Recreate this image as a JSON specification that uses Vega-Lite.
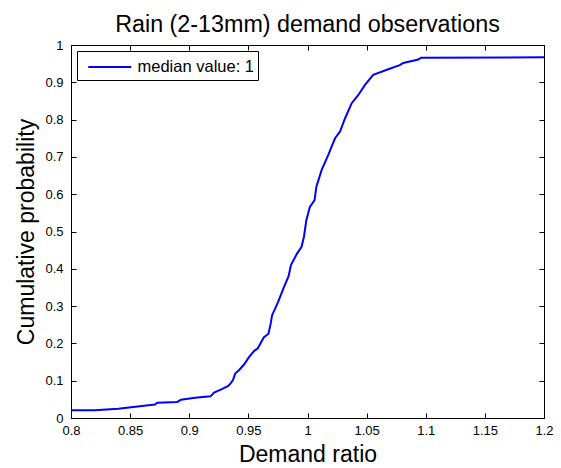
{
  "$schema": "https://vega.github.io/schema/vega-lite/v6.json",
  "width": 473,
  "height": 373,
  "autosize": {"type": "none"},
  "padding": {"left": 71, "top": 45, "right": 17, "bottom": 50},
  "background": "white",
  "config": {
    "font": "Liberation Sans",
    "view": {"stroke": "black", "strokeWidth": 1},
    "axis": {"domainColor": "black", "tickColor": "black", "labelColor": "black", "titleColor": "black", "grid": false}
  },
  "title": {
    "text": "Rain (2-13mm) demand observations",
    "font": "Liberation Sans",
    "fontSize": 23.3,
    "fontWeight": "normal",
    "color": "black",
    "anchor": "middle",
    "baseline": "alphabetic",
    "offset": 13,
    "dy": 29
  },
  "data": {
    "values": [
      {"x": 0.8, "p": 0.021, "s": "median value: 1"},
      {"x": 0.82, "p": 0.021, "s": "median value: 1"},
      {"x": 0.84, "p": 0.025, "s": "median value: 1"},
      {"x": 0.86, "p": 0.032, "s": "median value: 1"},
      {"x": 0.871, "p": 0.036, "s": "median value: 1"},
      {"x": 0.873, "p": 0.041, "s": "median value: 1"},
      {"x": 0.89, "p": 0.043, "s": "median value: 1"},
      {"x": 0.893, "p": 0.049, "s": "median value: 1"},
      {"x": 0.905, "p": 0.054, "s": "median value: 1"},
      {"x": 0.918, "p": 0.058, "s": "median value: 1"},
      {"x": 0.921, "p": 0.068, "s": "median value: 1"},
      {"x": 0.928, "p": 0.078, "s": "median value: 1"},
      {"x": 0.933, "p": 0.086, "s": "median value: 1"},
      {"x": 0.935, "p": 0.093, "s": "median value: 1"},
      {"x": 0.937, "p": 0.102, "s": "median value: 1"},
      {"x": 0.939, "p": 0.12, "s": "median value: 1"},
      {"x": 0.942, "p": 0.128, "s": "median value: 1"},
      {"x": 0.946, "p": 0.142, "s": "median value: 1"},
      {"x": 0.951, "p": 0.165, "s": "median value: 1"},
      {"x": 0.955, "p": 0.18, "s": "median value: 1"},
      {"x": 0.958, "p": 0.187, "s": "median value: 1"},
      {"x": 0.963, "p": 0.216, "s": "median value: 1"},
      {"x": 0.967, "p": 0.226, "s": "median value: 1"},
      {"x": 0.969, "p": 0.255, "s": "median value: 1"},
      {"x": 0.97, "p": 0.275, "s": "median value: 1"},
      {"x": 0.975, "p": 0.31, "s": "median value: 1"},
      {"x": 0.98, "p": 0.35, "s": "median value: 1"},
      {"x": 0.984, "p": 0.38, "s": "median value: 1"},
      {"x": 0.986, "p": 0.41, "s": "median value: 1"},
      {"x": 0.991, "p": 0.44, "s": "median value: 1"},
      {"x": 0.995, "p": 0.459, "s": "median value: 1"},
      {"x": 0.997, "p": 0.486, "s": "median value: 1"},
      {"x": 0.999, "p": 0.53, "s": "median value: 1"},
      {"x": 1.002, "p": 0.566, "s": "median value: 1"},
      {"x": 1.006, "p": 0.584, "s": "median value: 1"},
      {"x": 1.0075, "p": 0.62, "s": "median value: 1"},
      {"x": 1.012, "p": 0.665, "s": "median value: 1"},
      {"x": 1.0175, "p": 0.705, "s": "median value: 1"},
      {"x": 1.0233, "p": 0.75, "s": "median value: 1"},
      {"x": 1.0275, "p": 0.768, "s": "median value: 1"},
      {"x": 1.0317, "p": 0.803, "s": "median value: 1"},
      {"x": 1.0374, "p": 0.844, "s": "median value: 1"},
      {"x": 1.043, "p": 0.866, "s": "median value: 1"},
      {"x": 1.0486, "p": 0.893, "s": "median value: 1"},
      {"x": 1.0556, "p": 0.92, "s": "median value: 1"},
      {"x": 1.0683, "p": 0.935, "s": "median value: 1"},
      {"x": 1.078, "p": 0.946, "s": "median value: 1"},
      {"x": 1.081, "p": 0.952, "s": "median value: 1"},
      {"x": 1.0937, "p": 0.961, "s": "median value: 1"},
      {"x": 1.096, "p": 0.966, "s": "median value: 1"},
      {"x": 1.2, "p": 0.967, "s": "median value: 1"}
    ]
  },
  "resolve": {"axis": {"x": "independent", "y": "independent"}},
  "layer": [
    {
      "mark": {"type": "line", "strokeWidth": 2, "interpolate": "linear"},
      "encoding": {
        "x": {
          "field": "x", "type": "quantitative",
          "scale": {"domain": [0.8, 1.2], "nice": false, "zero": false},
          "axis": {
            "values": [0.8, 0.85, 0.9, 0.95, 1, 1.05, 1.1, 1.15, 1.2],
            "format": "~g",
            "tickSize": -5,
            "labelPadding": 11,
            "labelFontSize": 13,
            "labelFlush": false,
            "labelOverlap": false,
            "title": "Demand ratio",
            "titleFontSize": 23,
            "titleFontWeight": "normal",
            "titleBaseline": "alphabetic",
            "titleY": 43
          }
        },
        "y": {
          "field": "p", "type": "quantitative",
          "scale": {"domain": [0, 1], "nice": false},
          "axis": {
            "values": [0, 0.1, 0.2, 0.3, 0.4, 0.5, 0.6, 0.7, 0.8, 0.9, 1],
            "format": "~g",
            "tickSize": -5,
            "labelPadding": 13,
            "labelFontSize": 13,
            "labelFlush": false,
            "labelOverlap": false,
            "title": "Cumulative probability",
            "titleFontSize": 23,
            "titleFontWeight": "normal",
            "titleBaseline": "alphabetic",
            "titleX": -38,
            "titleY": 186.5
          }
        },
        "color": {
          "field": "s", "type": "nominal",
          "scale": {"range": ["#0000ff"]},
          "legend": {
            "title": null,
            "orient": "top-left",
            "offset": 6,
            "symbolType": "M-2,0L2,0",
            "symbolSize": 462,
            "symbolStrokeWidth": 2,
            "symbolOffset": 16.75,
            "labelFontSize": 16.5,
            "labelColor": "black",
            "labelOffset": 15.75,
            "strokeColor": "black",
            "fillColor": "white",
            "padding": 4
          }
        }
      }
    },
    {
      "mark": {"type": "point", "opacity": 0},
      "encoding": {
        "x": {
          "field": "x", "type": "quantitative",
          "scale": {"domain": [0.8, 1.2], "nice": false, "zero": false},
          "axis": {"orient": "top", "values": [0.8, 0.85, 0.9, 0.95, 1, 1.05, 1.1, 1.15, 1.2], "labels": false, "title": null, "tickSize": -5}
        },
        "y": {
          "field": "p", "type": "quantitative",
          "scale": {"domain": [0, 1], "nice": false},
          "axis": {"orient": "right", "values": [0, 0.1, 0.2, 0.3, 0.4, 0.5, 0.6, 0.7, 0.8, 0.9, 1], "labels": false, "title": null, "tickSize": -5}
        }
      }
    }
  ]
}
